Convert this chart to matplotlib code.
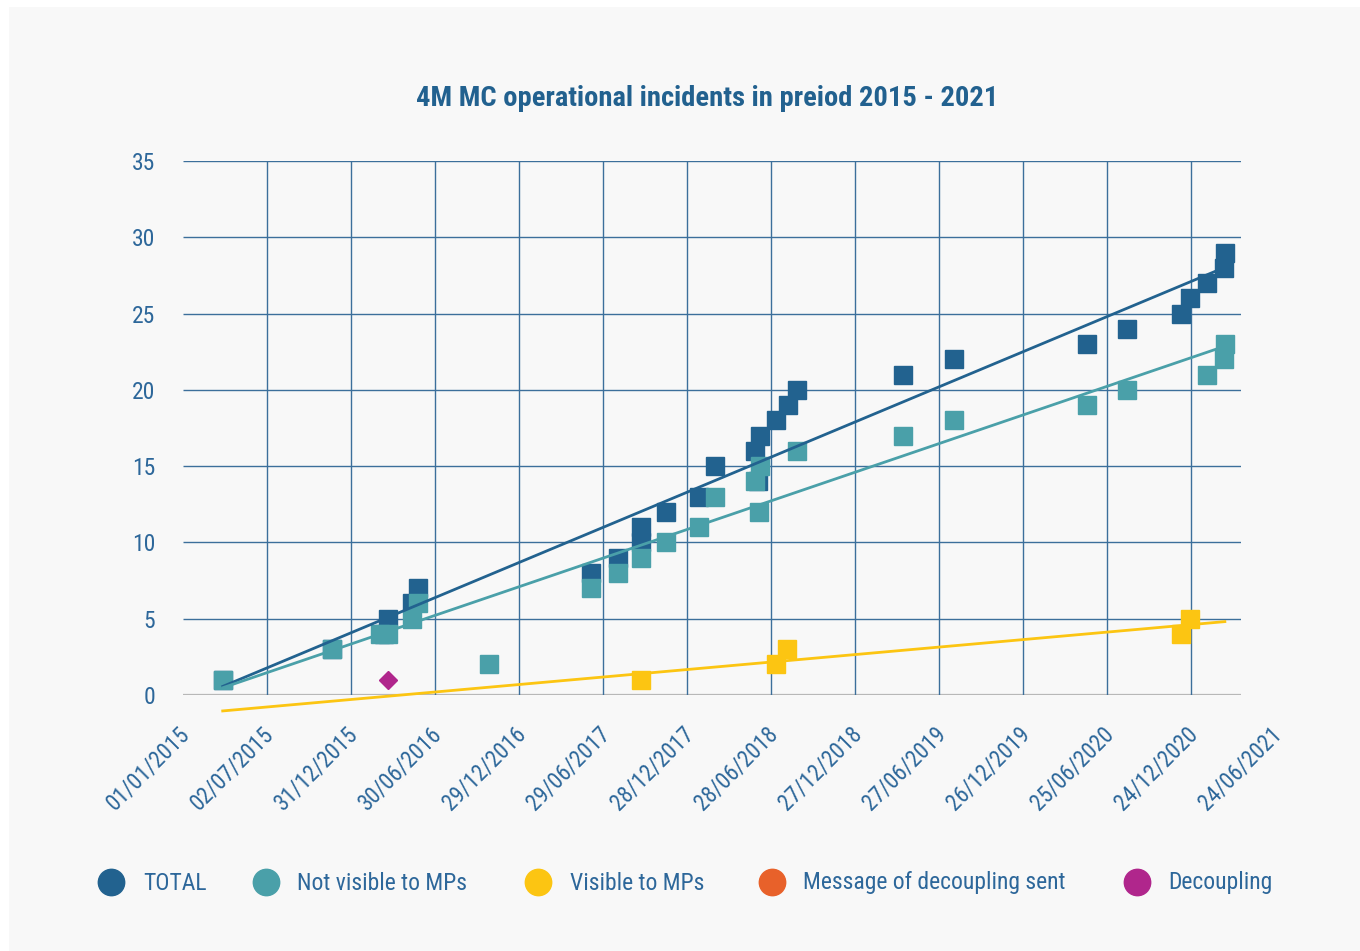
import numpy as np
import matplotlib.pyplot as plt
import matplotlib.dates as mdates
from matplotlib.lines import Line2D
from matplotlib.patches import Rectangle
import pandas as pd


# data

total_dates = ['2015-03-28', '2015-11-19', '2016-03-11', '2016-03-20', '2016-05-11', '2016-05-24',
               '2017-06-03', '2017-07-31', '2017-09-19', '2017-09-19', '2017-11-12', '2018-01-23',
               '2018-02-27', '2018-05-24', '2018-05-31', '2018-06-04', '2018-07-09', '2018-08-04',
               '2018-08-23', '2019-04-10', '2019-07-29', '2020-05-12', '2020-08-07', '2020-12-02',
               '2020-12-22', '2021-01-28', '2021-03-05', '2021-03-07']
total_vals = [1, 3, 4, 5, 6, 7,
              8, 9, 10, 11, 12, 13,
              15, 16, 14, 17, 18, 19,
              20, 21, 22, 23, 24, 25,
              26, 27, 28, 29]

hidden_dates = ['2015-03-28', '2015-11-19', '2016-03-02', '2016-03-20', '2016-05-11', '2016-05-24',
                '2016-10-25', '2017-06-03', '2017-07-31', '2017-09-19', '2017-11-12', '2018-01-23',
                '2018-02-27', '2018-05-24', '2018-06-02', '2018-06-04', '2018-08-23', '2019-04-10',
                '2019-07-29', '2020-05-12', '2020-08-07', '2021-01-28', '2021-03-05', '2021-03-07']
hidden_vals = [1, 3, 4, 4, 5, 6,
               2, 7, 8, 9, 10, 11,
               13, 14, 12, 15, 16, 17,
               18, 19, 20, 21, 22, 23]

visible_dates = ['2017-09-19', '2018-07-09', '2018-08-01', '2020-12-02', '2020-12-22']
visible_vals = [1, 2, 3, 4, 5]

decoupling_dates = ['2016-03-20']
decoupling_vals = [1]

legend_labels = ['TOTAL', 'Not visible to MPs', 'Visible to MPs', 'Message of decoupling sent', 'Decoupling']

c_total = '#22628f'
c_hidden = '#4aa0a9'
c_visible = '#fcc512'
c_message = '#e8612a'
c_decoupling = '#b0268c'
c_text = '#2d679a'
c_grid = '#3c6f9b'

plt.rcParams['font.family'] = ['Roboto Condensed', 'Roboto', 'DejaVu Sans']

fig = plt.figure(figsize=(13.6, 9.51), dpi=100, facecolor='white')
fig.add_artist(Rectangle((9 / 1360, 0), 1, 1 - 7 / 951, transform=fig.transFigure,
                         facecolor='#f8f8f8', edgecolor='none', zorder=0))

ax = fig.add_axes([183 / 1360, 1 - 695 / 951, (1241 - 183) / 1360, (695 - 161) / 951])
ax.set_facecolor('none')

t_total = pd.to_datetime(total_dates)
t_hidden = pd.to_datetime(hidden_dates)
t_visible = pd.to_datetime(visible_dates)
t_dec = pd.to_datetime(decoupling_dates)

start = pd.Timestamp('2015-01-01')
tick_dates = [start + pd.Timedelta(days=182 * i) for i in range(14)]
x_end = pd.Timestamp('2021-04-11')

ax.set_xlim(start, x_end)
ax.set_ylim(0, 35)
yticks = np.arange(0, 36, 5)
ax.set_yticks(yticks)
ax.set_xticks(tick_dates[:-1])
ax.set_xticklabels([])
ax.tick_params(length=0)
ax.tick_params(axis='y', pad=20, labelsize=17, labelcolor=c_text)
for s in ax.spines.values():
    s.set_visible(False)

# grid
ax.hlines(yticks[1:], start, x_end, color=c_grid, lw=1.0, zorder=1)
ax.axhline(0, color='#b8b8b8', lw=1.6, zorder=1)
ax.vlines(tick_dates[1:-1], 0, 35, color=c_grid, lw=1.0, zorder=1)

# x labels (last one sits past the plot edge like the original)
for d in tick_dates:
    ax.annotate(d.strftime('%d/%m/%Y'), xy=(mdates.date2num(d), 0), xycoords=('data', 'axes fraction'),
                xytext=(-5, -27), textcoords='offset pixels', rotation=45, ha='right', va='top',
                rotation_mode='anchor', fontsize=16.5, color=c_text, annotation_clip=False)

# points
ax.plot(t_total, total_vals, 's', ms=13, color=c_total, mec=c_total, zorder=3)
ax.plot(t_hidden, hidden_vals, 's', ms=13, color=c_hidden, mec=c_hidden, zorder=4)
ax.plot(t_visible, visible_vals, 's', ms=13, color=c_visible, mec=c_visible, zorder=4)
ax.plot(t_dec, decoupling_vals, 'D', ms=9.5, color=c_decoupling, mec=c_decoupling, zorder=4)

# linear trend lines
all_num = np.concatenate([mdates.date2num(t) for t in (t_total, t_hidden, t_visible, t_dec)])
xs = np.array([all_num.min(), all_num.max()])
for t, v, c in [(t_total, total_vals, c_total), (t_hidden, hidden_vals, c_hidden),
                (t_visible, visible_vals, c_visible)]:
    k, b = np.polyfit(mdates.date2num(t), v, 1)
    ax.plot(xs, k * xs + b, color=c, lw=2.0, zorder=5, clip_on=False)

fig.text(707 / 1360, 1 - 99 / 951, '4M MC operational incidents in preiod 2015 - 2021',
         ha='center', va='center', fontsize=20.5, fontweight='bold', color='#22618f')

# legend
leg_colors = [c_total, c_hidden, c_visible, c_message, c_decoupling]
leg_circle_x = [111, 266, 538, 772, 1137]
leg_text_x = [143, 297, 570, 803, 1168]
for lab, col, cx, tx in zip(legend_labels, leg_colors, leg_circle_x, leg_text_x):
    fig.add_artist(Line2D([cx / 1360], [1 - 882 / 951], marker='o', ms=19, color=col,
                          mec=col, transform=fig.transFigure))
    fig.text(tx / 1360, 1 - 883 / 951, lab, ha='left', va='center', fontsize=17, color=c_text)

fig.savefig('out.png', dpi=100, facecolor=fig.get_facecolor())
